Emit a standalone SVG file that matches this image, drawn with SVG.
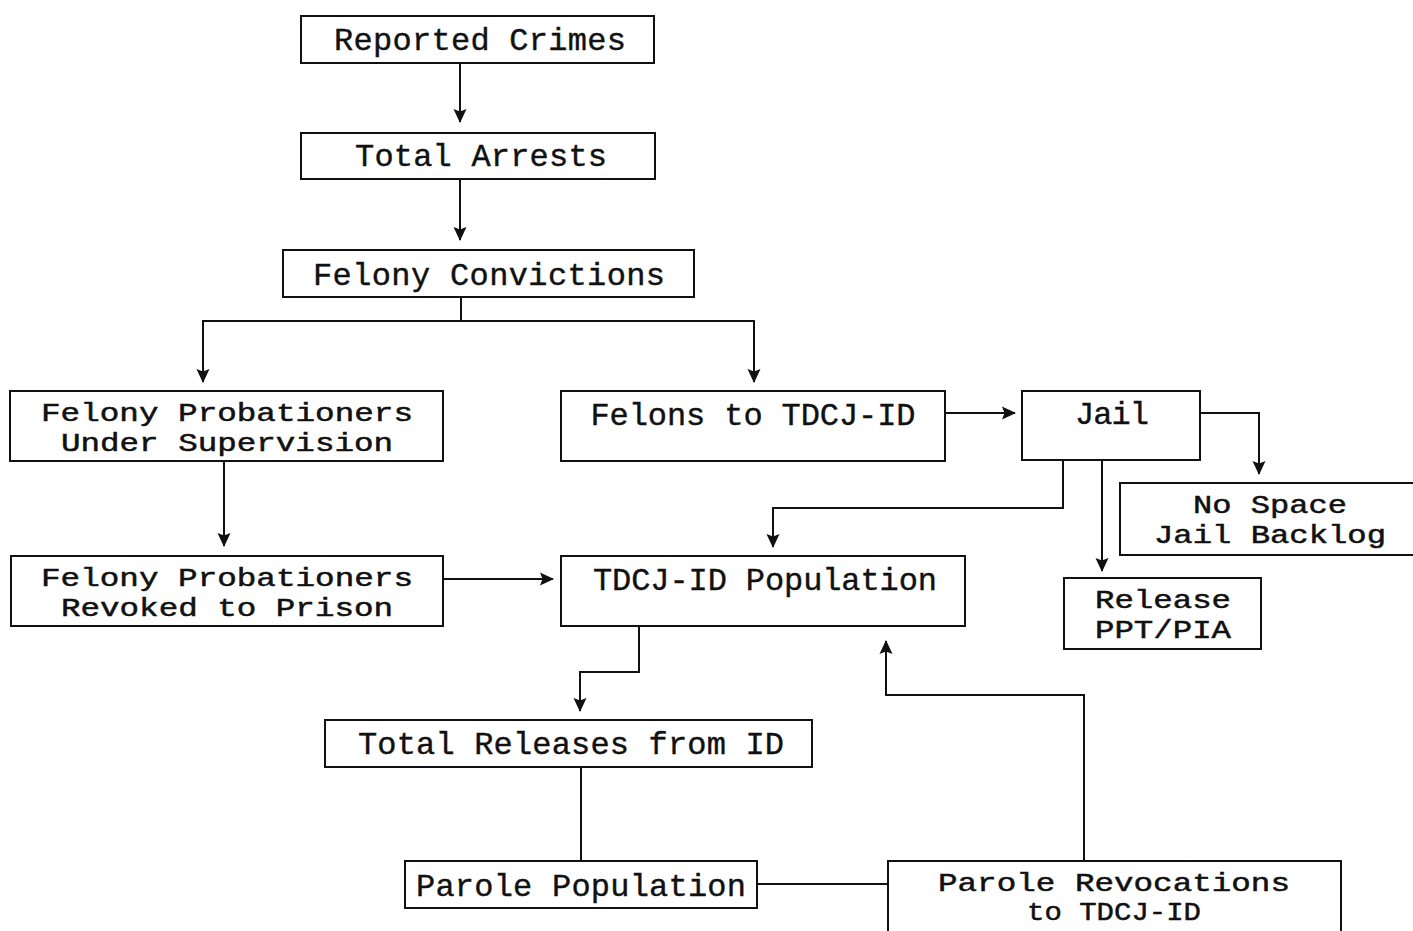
<svg xmlns="http://www.w3.org/2000/svg" width="1413" height="931" viewBox="0 0 1413 931">
<defs>
<style>
.box{fill:none;stroke:#111;stroke-width:2}
.t{font-family:"Liberation Mono","Courier New",monospace;font-size:32px;fill:#111;stroke:#111;stroke-width:0.4;text-anchor:middle}
.t2{font-size:26px;stroke-width:0.5}
.c{fill:none;stroke:#111;stroke-width:2}
</style>
<marker id="ah" viewBox="0 0 14 14" refX="13" refY="7" markerWidth="14" markerHeight="14" markerUnits="userSpaceOnUse" orient="auto">
<path d="M0,0.5 L14,7 L0,13.5 L2.5,7 Z" fill="#111"/>
</marker>
</defs>
<rect width="1413" height="931" fill="#fff"/>
<g id="connectors">
<path class="c" d="M460,63 V122" marker-end="url(#ah)"/>
<path class="c" d="M460,179 V240" marker-end="url(#ah)"/>
<path class="c" d="M461,297 V321 M203,321 H754"/>
<path class="c" d="M203,320 V382" marker-end="url(#ah)"/>
<path class="c" d="M754,320 V382" marker-end="url(#ah)"/>
<path class="c" d="M224,461 V546" marker-end="url(#ah)"/>
<path class="c" d="M945,413 H1015" marker-end="url(#ah)"/>
<path class="c" d="M1200,413 H1259 V474" marker-end="url(#ah)"/>
<path class="c" d="M1063,460 V508 H773 V547" marker-end="url(#ah)"/>
<path class="c" d="M1102,460 V571" marker-end="url(#ah)"/>
<path class="c" d="M443,579 H553" marker-end="url(#ah)"/>
<path class="c" d="M639,626 V672 H580 V711" marker-end="url(#ah)"/>
<path class="c" d="M1084,861 V695 H886 V641" marker-end="url(#ah)"/>
<path class="c" d="M581,767 V861"/>
<path class="c" d="M757,884 H888"/>
</g>
<g id="reported-crimes"><rect class="box" x="301" y="16" width="353" height="47"/><text class="t" x="480" y="50" textLength="292">Reported Crimes</text></g>
<g id="total-arrests"><rect class="box" x="301" y="133" width="354" height="46"/><text class="t" x="481" y="166" textLength="252">Total Arrests</text></g>
<g id="felony-convictions"><rect class="box" x="283" y="250" width="411" height="47"/><text class="t" x="489" y="285" textLength="352">Felony Convictions</text></g>
<g id="probationers-supervision"><rect class="box" x="10" y="391" width="433" height="70"/><text class="t t2" x="227" y="421" textLength="372" lengthAdjust="spacingAndGlyphs">Felony Probationers</text><text class="t t2" x="227" y="451" textLength="332" lengthAdjust="spacingAndGlyphs">Under Supervision</text></g>
<g id="felons-tdcj"><rect class="box" x="561" y="391" width="384" height="70"/><text class="t" x="753" y="425" textLength="325">Felons to TDCJ-ID</text></g>
<g id="jail"><rect class="box" x="1022" y="391" width="178" height="69"/><text class="t" x="1112" y="424" textLength="74">Jail</text></g>
<g id="no-space"><rect class="box" x="1120" y="483" width="300" height="72"/><text class="t t2" x="1270" y="513" textLength="154" lengthAdjust="spacingAndGlyphs">No Space</text><text class="t t2" x="1270" y="543" textLength="232" lengthAdjust="spacingAndGlyphs">Jail Backlog</text></g>
<g id="release-ppt"><rect class="box" x="1064" y="578" width="197" height="71"/><text class="t t2" x="1163" y="608" textLength="136" lengthAdjust="spacingAndGlyphs">Release</text><text class="t t2" x="1163" y="638" textLength="136" lengthAdjust="spacingAndGlyphs">PPT/PIA</text></g>
<g id="probationers-revoked"><rect class="box" x="11" y="556" width="432" height="70"/><text class="t t2" x="227" y="586" textLength="372" lengthAdjust="spacingAndGlyphs">Felony Probationers</text><text class="t t2" x="227" y="616" textLength="332" lengthAdjust="spacingAndGlyphs">Revoked to Prison</text></g>
<g id="tdcj-population"><rect class="box" x="561" y="556" width="404" height="70"/><text class="t" x="765" y="590" textLength="344">TDCJ-ID Population</text></g>
<g id="total-releases"><rect class="box" x="325" y="720" width="487" height="47"/><text class="t" x="571" y="754" textLength="426">Total Releases from ID</text></g>
<g id="parole-population"><rect class="box" x="405" y="861" width="352" height="47"/><text class="t" x="581" y="896" textLength="330">Parole Population</text></g>
<g id="parole-revocations"><rect class="box" x="888" y="861" width="453" height="75"/><text class="t t2" x="1114" y="891" textLength="352" lengthAdjust="spacingAndGlyphs">Parole Revocations</text><text class="t t2" x="1114" y="920" textLength="174" lengthAdjust="spacingAndGlyphs">to TDCJ-ID</text></g>
</svg>
